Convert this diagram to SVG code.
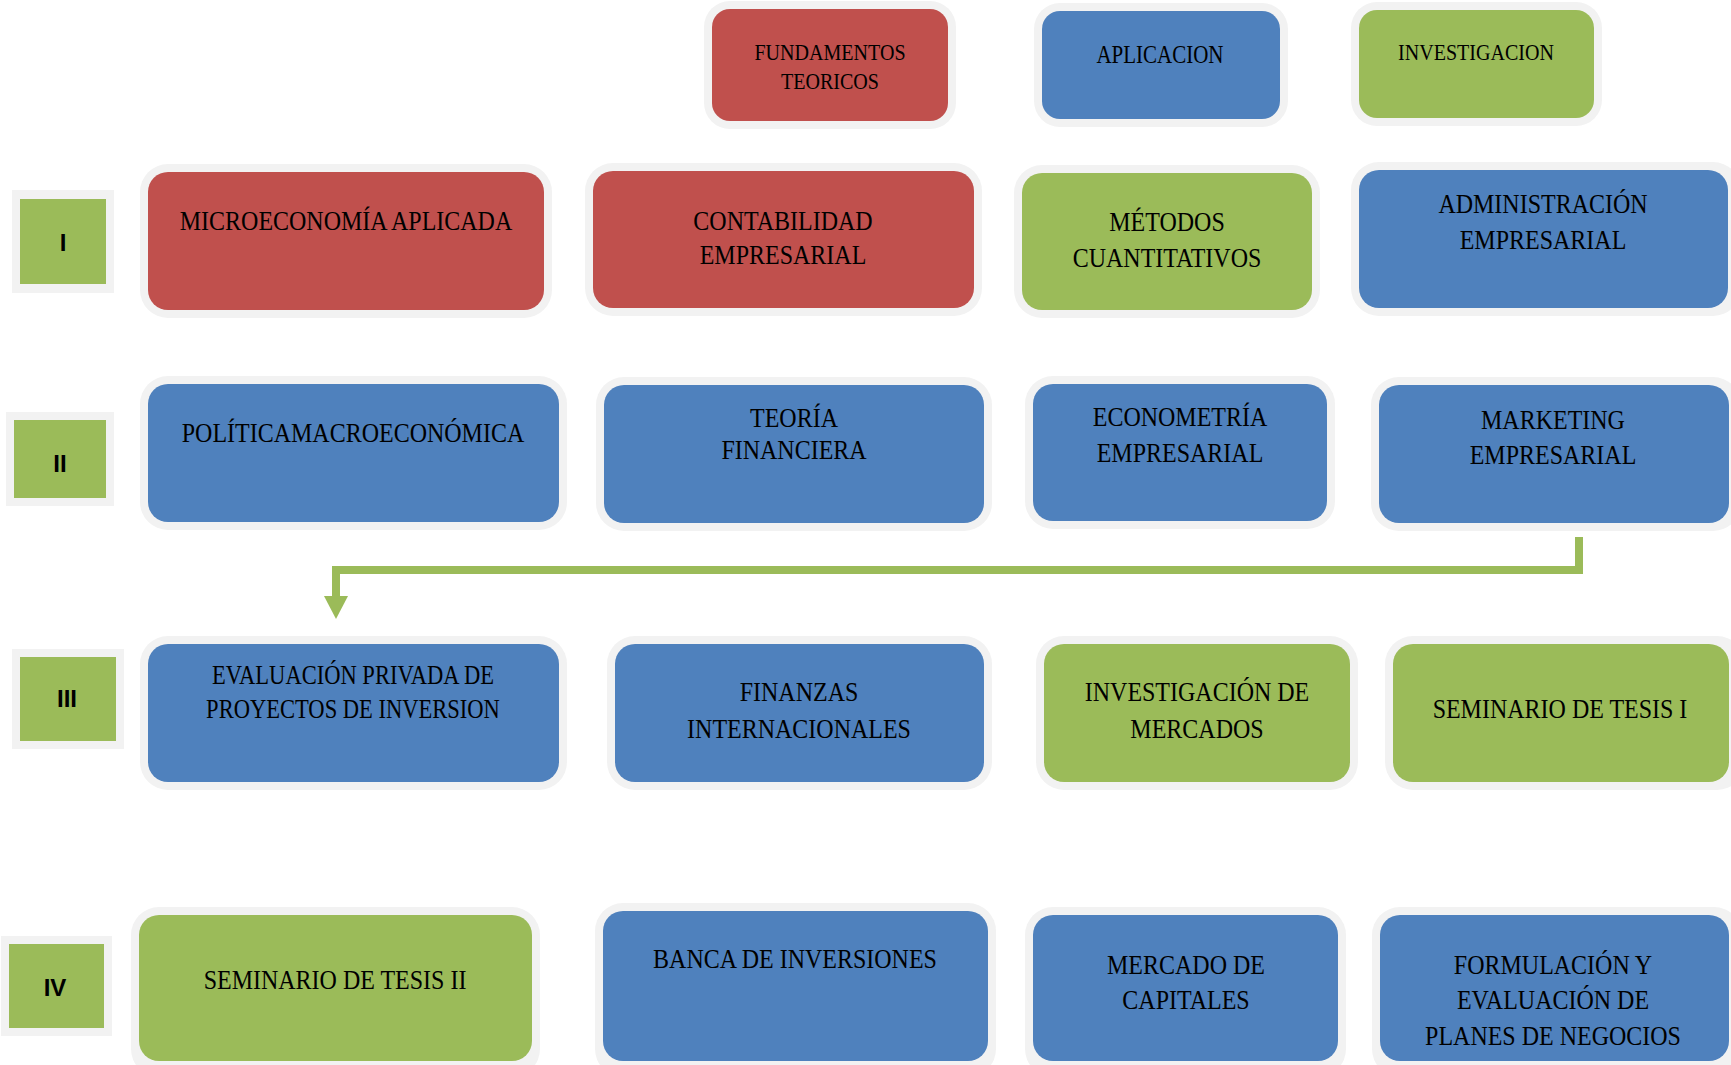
<svg xmlns="http://www.w3.org/2000/svg" width="1731" height="1065" viewBox="0 0 1731 1065">
<style>
.halo{fill:#F2F2F2}
.red{fill:#C0504D}
.blue{fill:#4F81BD}
.green{fill:#9BBB59}
.t{font-family:"Liberation Serif","DejaVu Serif",serif;font-size:28px;fill:#000;text-anchor:middle}
.h{font-size:23.4px}
.lbl{font-family:"Liberation Sans","DejaVu Sans",sans-serif;font-weight:bold;font-size:24px;fill:#000;text-anchor:middle}
.conn{fill:none;stroke:#9BBB59;stroke-width:8}
</style>
<rect width="1731" height="1065" fill="#fff"/>

<!-- header -->
<g id="fundamentos">
<rect class="halo" x="704" y="1" width="252" height="128" rx="26"/>
<rect class="red" x="712" y="9" width="236" height="112" rx="18"/>
<g transform="translate(830 0) scale(0.857 1)">
<text class="t h" x="0" y="60">FUNDAMENTOS</text>
<text class="t h" x="0" y="89">TEORICOS</text>
</g>
</g>
<g id="aplicacion">
<rect class="halo" x="1034" y="3" width="254" height="124" rx="26"/>
<rect class="blue" x="1042" y="11" width="238" height="108" rx="18"/>
<g transform="translate(1160 0) scale(0.857 1)">
<text class="t" style="font-size:24.5px" x="0" y="63">APLICACION</text>
</g>
</g>
<g id="investigacion">
<rect class="halo" x="1351" y="2" width="251" height="124" rx="26"/>
<rect class="green" x="1359" y="10" width="235" height="108" rx="18"/>
<g transform="translate(1476 0) scale(0.857 1)">
<text class="t h" x="0" y="60">INVESTIGACION</text>
</g>
</g>

<!-- row labels -->
<g id="lbl-I">
<rect class="halo" x="12" y="190" width="102" height="103"/>
<rect class="green" x="20" y="199" width="86" height="85"/>
<text class="lbl" x="63" y="251">I</text>
</g>
<g id="lbl-II">
<rect class="halo" x="6" y="412" width="108" height="94"/>
<rect class="green" x="14" y="420" width="92" height="78"/>
<text class="lbl" x="60" y="472">II</text>
</g>
<g id="lbl-III">
<rect class="halo" x="12" y="649" width="112" height="100"/>
<rect class="green" x="20" y="657" width="96" height="84"/>
<text class="lbl" x="67" y="707">III</text>
</g>
<g id="lbl-IV">
<rect class="halo" x="1" y="936" width="111" height="100"/>
<rect class="green" x="9" y="944" width="95" height="84"/>
<text class="lbl" x="55" y="996">IV</text>
</g>

<!-- row I -->
<g id="microeconomia">
<rect class="halo" x="140" y="164" width="412" height="154" rx="28"/>
<rect class="red" x="148" y="172" width="396" height="138" rx="20"/>
<g transform="translate(346 0) scale(0.857 1)">
<text class="t" x="0" y="230">MICROECONOMÍA APLICADA</text>
</g>
</g>
<g id="contabilidad">
<rect class="halo" x="585" y="163" width="397" height="153" rx="28"/>
<rect class="red" x="593" y="171" width="381" height="137" rx="20"/>
<g transform="translate(783 0) scale(0.857 1)">
<text class="t" x="0" y="230">CONTABILIDAD</text>
<text class="t" x="0" y="264">EMPRESARIAL</text>
</g>
</g>
<g id="metodos">
<rect class="halo" x="1014" y="165" width="306" height="153" rx="28"/>
<rect class="green" x="1022" y="173" width="290" height="137" rx="20"/>
<g transform="translate(1167 0) scale(0.857 1)">
<text class="t" x="0" y="231">MÉTODOS</text>
<text class="t" x="0" y="267">CUANTITATIVOS</text>
</g>
</g>
<g id="administracion">
<rect class="halo" x="1351" y="162" width="390" height="154" rx="28"/>
<rect class="blue" x="1359" y="170" width="369" height="138" rx="20"/>
<g transform="translate(1543 0) scale(0.857 1)">
<text class="t" x="0" y="213">ADMINISTRACIÓN</text>
<text class="t" x="0" y="249">EMPRESARIAL</text>
</g>
</g>

<!-- row II -->
<g id="politica">
<rect class="halo" x="140" y="376" width="427" height="154" rx="28"/>
<rect class="blue" x="148" y="384" width="411" height="138" rx="20"/>
<g transform="translate(353 0) scale(0.857 1)">
<text class="t" x="0" y="442">POLÍTICAMACROECONÓMICA</text>
</g>
</g>
<g id="teoria">
<rect class="halo" x="596" y="377" width="396" height="154" rx="28"/>
<rect class="blue" x="604" y="385" width="380" height="138" rx="20"/>
<g transform="translate(794 0) scale(0.857 1)">
<text class="t" x="0" y="427">TEORÍA</text>
<text class="t" x="0" y="459">FINANCIERA</text>
</g>
</g>
<g id="econometria">
<rect class="halo" x="1025" y="376" width="310" height="153" rx="28"/>
<rect class="blue" x="1033" y="384" width="294" height="137" rx="20"/>
<g transform="translate(1180 0) scale(0.857 1)">
<text class="t" x="0" y="426">ECONOMETRÍA</text>
<text class="t" x="0" y="462">EMPRESARIAL</text>
</g>
</g>
<g id="marketing">
<rect class="halo" x="1371" y="377" width="370" height="154" rx="28"/>
<rect class="blue" x="1379" y="385" width="350" height="138" rx="20"/>
<g transform="translate(1553 0) scale(0.857 1)">
<text class="t" x="0" y="429">MARKETING</text>
<text class="t" x="0" y="464">EMPRESARIAL</text>
</g>
</g>

<!-- connector -->
<g id="connectors">
<polyline class="conn" points="1579,537 1579,570 336,570 336,598"/>
<polygon fill="#9BBB59" points="324,596 348,596 336,619"/>
</g>

<!-- row III -->
<g id="evaluacion">
<rect class="halo" x="140" y="636" width="427" height="154" rx="28"/>
<rect class="blue" x="148" y="644" width="411" height="138" rx="20"/>
<g transform="translate(353 0) scale(0.857 1)">
<text class="t" style="font-size:26.3px" x="0" y="684">EVALUACIÓN PRIVADA DE</text>
<text class="t" style="font-size:26.3px" x="0" y="718">PROYECTOS DE INVERSION</text>
</g>
</g>
<g id="finanzas">
<rect class="halo" x="607" y="636" width="385" height="154" rx="28"/>
<rect class="blue" x="615" y="644" width="369" height="138" rx="20"/>
<g transform="translate(799 0) scale(0.857 1)">
<text class="t" x="0" y="701">FINANZAS</text>
<text class="t" x="0" y="738">INTERNACIONALES</text>
</g>
</g>
<g id="investigacion-mercados">
<rect class="halo" x="1036" y="636" width="322" height="154" rx="28"/>
<rect class="green" x="1044" y="644" width="306" height="138" rx="20"/>
<g transform="translate(1197 0) scale(0.857 1)">
<text class="t" x="0" y="701">INVESTIGACIÓN DE</text>
<text class="t" x="0" y="738">MERCADOS</text>
</g>
</g>
<g id="seminario1">
<rect class="halo" x="1385" y="636" width="360" height="154" rx="28"/>
<rect class="green" x="1393" y="644" width="336" height="138" rx="20"/>
<g transform="translate(1560 0) scale(0.857 1)">
<text class="t" x="0" y="718">SEMINARIO DE TESIS I</text>
</g>
</g>

<!-- row IV -->
<g id="seminario2">
<rect class="halo" x="131" y="907" width="409" height="170" rx="28"/>
<rect class="green" x="139" y="915" width="393" height="146" rx="20"/>
<g transform="translate(335 0) scale(0.857 1)">
<text class="t" x="0" y="989">SEMINARIO DE TESIS II</text>
</g>
</g>
<g id="banca">
<rect class="halo" x="595" y="903" width="401" height="174" rx="28"/>
<rect class="blue" x="603" y="911" width="385" height="150" rx="20"/>
<g transform="translate(795 0) scale(0.857 1)">
<text class="t" x="0" y="968">BANCA DE INVERSIONES</text>
</g>
</g>
<g id="mercado">
<rect class="halo" x="1025" y="907" width="321" height="170" rx="28"/>
<rect class="blue" x="1033" y="915" width="305" height="146" rx="20"/>
<g transform="translate(1186 0) scale(0.857 1)">
<text class="t" x="0" y="974">MERCADO DE</text>
<text class="t" x="0" y="1009">CAPITALES</text>
</g>
</g>
<g id="formulacion">
<rect class="halo" x="1372" y="907" width="370" height="170" rx="28"/>
<rect class="blue" x="1380" y="915" width="349" height="146" rx="20"/>
<g transform="translate(1553 0) scale(0.857 1)">
<text class="t" x="0" y="974">FORMULACIÓN Y</text>
<text class="t" x="0" y="1009">EVALUACIÓN DE</text>
<text class="t" x="0" y="1045">PLANES DE NEGOCIOS</text>
</g>
</g>
</svg>
